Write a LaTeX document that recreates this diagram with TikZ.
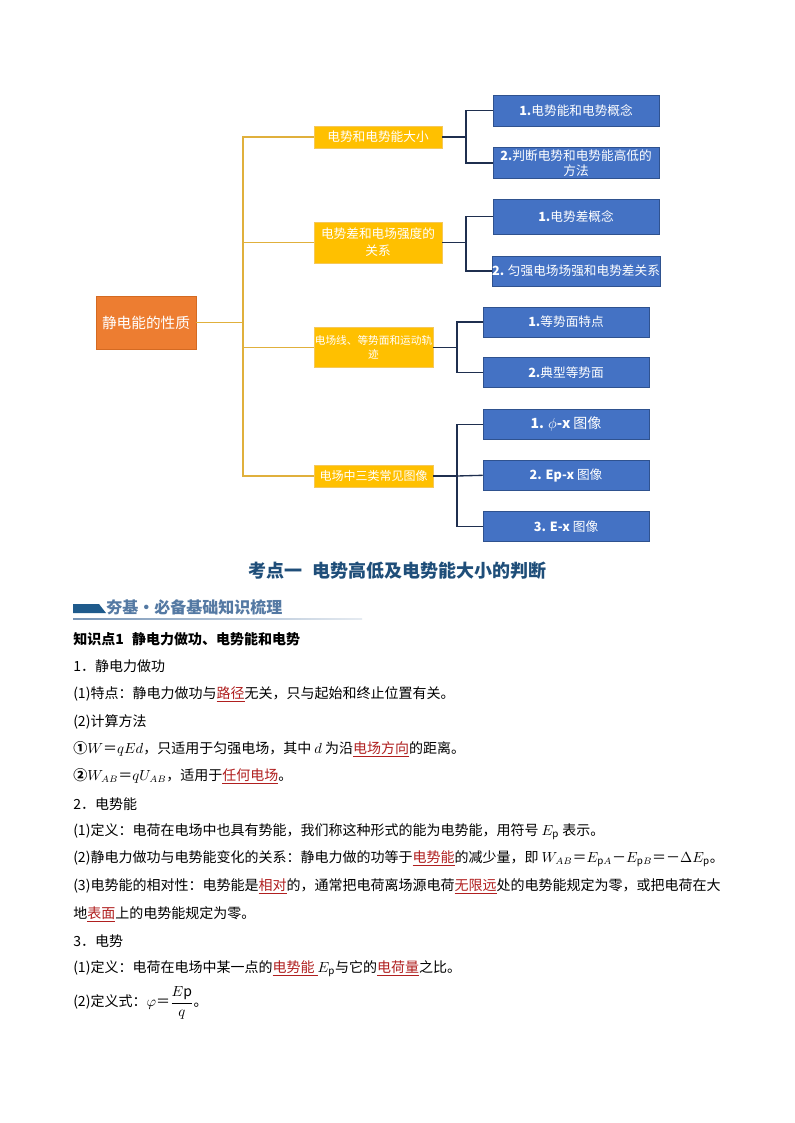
\documentclass[tikz,border=0pt]{standalone}
\usepackage{fontspec}
\setmainfont{Noto Sans CJK SC}
\definecolor{rootorange}{HTML}{ED7D31}
\definecolor{rootedge}{HTML}{D46A22}
\definecolor{topicyellow}{HTML}{FFC000}
\definecolor{topicedge}{HTML}{F5C85A}
\definecolor{subblue}{HTML}{4472C4}
\definecolor{subedge}{HTML}{2F528F}
\definecolor{trunkline}{HTML}{E0B03C}
\definecolor{branchline}{HTML}{1F2F4F}
\definecolor{titleblue}{HTML}{1F4E79}
\definecolor{headblue}{HTML}{5479A3}
\definecolor{barblue}{HTML}{1F5B8C}
\definecolor{hlred}{HTML}{B01F1F}
\newcommand\hl[1]{\textcolor{hlred}{\underline{#1}}}
\begin{document}
\begin{tikzpicture}[x=0.75pt,y=-0.75pt,
  rootbox/.style={draw=rootedge,fill=rootorange,text=white,minimum width=75pt,minimum height=39.75pt,font=\fontsize{11}{13}\selectfont},
  topicbox/.style={draw=topicedge,fill=topicyellow,text=white,minimum width=96pt,inner sep=0pt,align=center,font=\fontsize{9.5}{12.5}\selectfont},
  subbox/.style={draw=subedge,fill=subblue,text=white,minimum width=124.5pt,minimum height=22.5pt,inner sep=0pt,align=center,font=\fontsize{9.5}{11.5}\selectfont},
  trunk/.style={trunkline,line width=1.1pt},
  branch/.style={branchline,line width=1pt},
  textline/.style={anchor=west,inner sep=0pt,font=\fontsize{10.5}{12}\selectfont}]
\fill[white] (0,0) rectangle (794,1123);
\useasboundingbox (0,0) rectangle (794,1123);

\node[rootbox] (root) at (146,322.5) {静电能的性质};
\node[topicbox,minimum height=16.5pt] (t1) at (378,137) {电势和电势能大小};
\node[topicbox,minimum height=30.75pt] (t2) at (378,242.3) {电势差和电场强度的\\关系};
\node[topicbox,minimum width=89.25pt,minimum height=30pt,font=\fontsize{8}{11}\selectfont] (t3) at (373.5,347.3) {电场线、等势面和运动轨\\迹};
\node[topicbox,minimum width=89.25pt,minimum height=16.5pt,font=\fontsize{9}{11}\selectfont] (t4) at (373.5,476) {电场中三类常见图像};

\node[subbox,minimum height=23.25pt] (s1a) at (576,110.5) {\textbf{1.}电势能和电势概念};
\node[subbox,minimum height=23.25pt] (s1b) at (576,163) {\textbf{2.}判断电势和电势能高低的\\方法};
\node[subbox,minimum height=26.25pt] (s2a) at (576,216.8) {\textbf{1.}电势差概念};
\node[subbox] (s2b) at (576,271) {\textbf{2.} 匀强电场场强和电势差关系};
\node[subbox] (s3a) at (566,322) {\textbf{1.}等势面特点};
\node[subbox] (s3b) at (566,372.5) {\textbf{2.}典型等势面};
\node[subbox,font=\fontsize{10.5}{12}\selectfont] (s4a) at (566,424.3) {\textbf{1. $\phi$-x} 图像};
\node[subbox] (s4b) at (566,475.3) {\textbf{2. Ep-x} 图像};
\node[subbox] (s4c) at (566,526.7) {\textbf{3. E-x} 图像};

\coordinate (fork) at (243,322.5);
\draw[trunk] (root.east) -- (fork);
\draw[trunk] (fork) |- (t1.west);
\draw[trunk] (fork) |- (t2.west);
\draw[trunk] (fork) |- (t3.west);
\draw[trunk] (fork) |- (t4.west);

\coordinate (f1) at (466,137);
\coordinate (f2) at (466,242.3);
\coordinate (f3) at (457,347.3);
\coordinate (f4) at (457,476);
\draw[branch] (t1.east) -- (f1) |- (s1a.west);
\draw[branch] (f1) |- (s1b.west);
\draw[branch] (t2.east) -- (f2) |- (s2a.west);
\draw[branch] (f2) |- (s2b.west);
\draw[branch] (t3.east) -- (f3) |- (s3a.west);
\draw[branch] (f3) |- (s3b.west);
\draw[branch] (t4.east) -- (f4) |- (s4a.west);
\draw[branch] (f4) -- (s4b.west);
\draw[branch] (f4) |- (s4c.west);

\node[font=\fontsize{13.5}{15}\selectfont\bfseries,text=titleblue] (title) at (397.5,571) {考点一\hspace{0.6em}电势高低及电势能大小的判断};

\fill[barblue] (73,604) -- (99,604) -- (106,613) -- (73,613) -- cycle;
\shade[left color=headblue!80,right color=headblue!15] (73,618) rectangle (362,619.4);
\node[anchor=west,inner sep=0pt,font=\fontsize{12}{14}\selectfont\bfseries,text=headblue] (head) at (106,607) {夯基・必备基础知识梳理};

\node[textline,font=\fontsize{10.5}{12}\selectfont\bfseries] (l1) at (73,639) {知识点1\hspace{0.6em}静电力做功、电势能和电势};
\node[textline] (l2) at (73,666.5) {1．静电力做功};
\node[textline] (l3) at (73,694) {(1)特点：静电力做功与\hl{路径}无关，只与起始和终止位置有关。};
\node[textline] (l4) at (73,721.5) {(2)计算方法};
\node[textline] (l5) at (73,749) {\textbf{①}$W$＝$qEd$，只适用于匀强电场，其中 $d$ 为沿\hl{电场方向}的距离。};
\node[textline] (l6) at (73,776.5) {\textbf{②}$W_{AB}$＝$qU_{AB}$，适用于\hl{任何电场}。};
\node[textline] (l7) at (73,804) {2．电势能};
\node[textline] (l8) at (73,831.5) {(1)定义：电荷在电场中也具有势能，我们称这种形式的能为电势能，用符号 $E_{\mathrm p}$ 表示。};
\node[textline] (l9) at (73,859) {(2)静电力做功与电势能变化的关系：静电力做的功等于\hl{电势能}的减少量，即 $W_{AB}$＝$E_{{\mathrm p}A}$－$E_{{\mathrm p}B}$＝－$\Delta E_{\mathrm p}$。};
\node[textline] (l10) at (73,886.5) {(3)电势能的相对性：电势能是\hl{相对}的，通常把电荷离场源电荷\hl{无限远}处的电势能规定为零，或把电荷在大};
\node[textline] (l11) at (73,914) {地\hl{表面}上的电势能规定为零。};
\node[textline] (l12) at (73,941.5) {3．电势};
\node[textline] (l13) at (73,969) {(1)定义：电荷在电场中某一点的\hl{电势能 }$E_{\mathrm p}$与它的\hl{电荷量}之比。};
\node[textline] (l14) at (73,1003) {(2)定义式：$\varphi$＝$\displaystyle\frac{E\mathrm{p}}{q}$。};
\end{tikzpicture}
\end{document}
